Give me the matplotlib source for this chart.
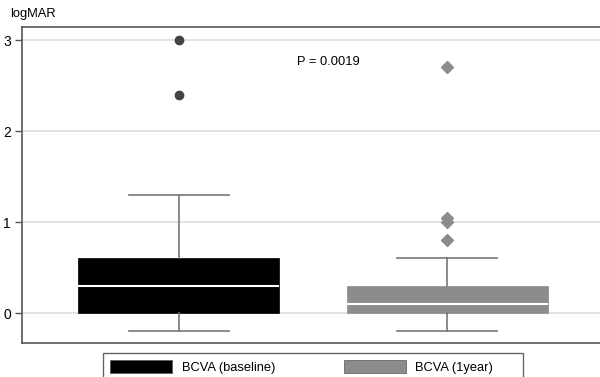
import matplotlib
matplotlib.use('Agg')
from matplotlib import pyplot as plt
from matplotlib.patches import Patch, Rectangle

plt.rcParams['font.family'] = ['Liberation Sans', 'DejaVu Sans']

# box statistics (logMAR)
groups = ['BCVA (baseline)', 'BCVA (1year)']
q1 = [0.0, 0.0]
medians = [0.3, 0.1]
q3 = [0.6, 0.3]
whisker_low = [-0.2, -0.2]
whisker_high = [1.3, 0.6]
outliers = [[3.0, 2.4], [2.7, 1.05, 1.0, 0.8]]
box_colors = ['#000000', '#8c8c8c']
flier_markers = ['o', 'D']
flier_colors = ['#444444', '#8c8c8c']
p_text = 'P = 0.0019'

if __name__ == '__main__':
    fig = plt.figure(figsize=(6, 3.77), dpi=100)
    ax = fig.add_axes([0.037, 0.09, 0.963, 0.838])

    ax.set_ylim(-0.33, 3.143)
    ax.set_xlim(0.416, 2.57)
    ax.set_yticks([0, 1, 2, 3])
    ax.yaxis.grid(True, color='#dddddd', linewidth=1.2)
    ax.set_axisbelow(True)

    for i in range(len(groups)):
        stats = [{'q1': q1[i], 'med': medians[i], 'q3': q3[i],
                  'whislo': whisker_low[i], 'whishi': whisker_high[i],
                  'fliers': outliers[i], 'label': groups[i]}]
        ax.bxp(stats, positions=[i + 1], widths=0.75, patch_artist=True,
               boxprops=dict(facecolor=box_colors[i], edgecolor=box_colors[i], linewidth=0.5),
               medianprops=dict(color='white', linewidth=1.5),
               whiskerprops=dict(color='#777777', linewidth=1.2),
               capprops=dict(color='#777777', linewidth=1.2),
               flierprops=dict(marker=flier_markers[i], markerfacecolor=flier_colors[i],
                               markeredgecolor=flier_colors[i], markersize=6))

    ax.set_xticks([])
    ax.tick_params(axis='y', length=5, width=1, color='#555555', labelsize=10, pad=3)
    for side in ['left', 'top', 'bottom']:
        ax.spines[side].set_color('#555555')
        ax.spines[side].set_linewidth(1.2)
    ax.spines['right'].set_visible(False)

    ax.text(1.44, 2.76, p_text, fontsize=9.3, va='center', ha='left')
    fig.text(0.017, 0.962, 'logMAR', fontsize=9.3, va='center', ha='left')

    # legend frame drawn separately so it reaches the same width as the original
    fig.patches.append(Rectangle((0.1717, -0.02), 0.7, 0.0837, transform=fig.transFigure,
                                 facecolor='white', edgecolor='#666666', linewidth=1))
    handles = [Patch(facecolor=c, edgecolor='#555555', linewidth=0.5) for c in box_colors]
    fig.legend(handles, groups, loc='upper left', ncol=2,
               bbox_to_anchor=(0.1717, 0.0637), fontsize=9.3,
               handlelength=4.8, handleheight=1.2, handletextpad=0.75,
               columnspacing=5.3, frameon=False,
               borderpad=0.55, borderaxespad=0)

    plt.savefig('out.png', dpi=100)
